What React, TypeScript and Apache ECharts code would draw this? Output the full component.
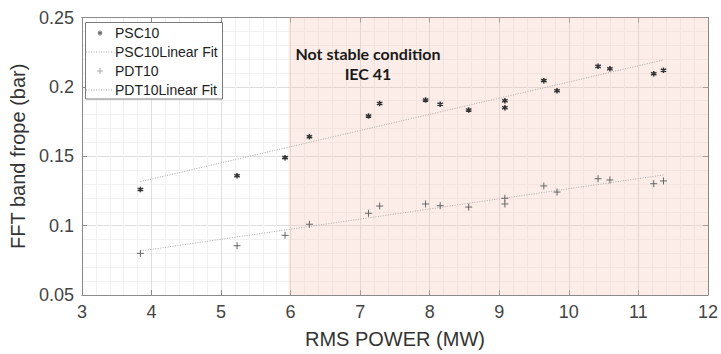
import React, { useEffect, useRef } from "react";
import * as echarts from "echarts";

// RMS power (MW) of each measurement
const psc10Power = [3.84, 5.23, 5.92, 6.27, 7.12, 7.28, 7.94, 8.15, 8.56, 9.08, 9.08, 9.64, 9.83, 10.42, 10.59, 11.22, 11.36];
// FFT band frope (bar), PSC10 sensor
const psc10Fft = [0.126, 0.136, 0.149, 0.164, 0.179, 0.188, 0.1905, 0.1875, 0.1833, 0.19, 0.185, 0.2045, 0.1972, 0.2148, 0.2131, 0.2095, 0.212];
// FFT band frope (bar), PDT10 sensor
const pdt10Power = [3.84, 5.23, 5.92, 6.27, 7.12, 7.28, 7.94, 8.15, 8.56, 9.08, 9.08, 9.64, 9.83, 10.42, 10.59, 11.22, 11.36];
const pdt10Fft = [0.08, 0.0855, 0.093, 0.101, 0.1089, 0.1141, 0.1156, 0.1144, 0.1134, 0.1197, 0.1156, 0.1286, 0.1242, 0.1338, 0.1329, 0.1302, 0.1322];

// Linear fit end points
const fitPower = [3.84, 11.36];
const psc10FitFft = [0.1317, 0.2194];
const pdt10FitFft = [0.0817, 0.1365];

// Power range flagged as not stable (IEC 41)
const unstableRange = [5.97, 12];

const xTicks = { min: 3, max: 12, interval: 1 };
const yTicks = { min: 0.05, max: 0.25, interval: 0.05 };

const legendNames = ["PSC10", "PSC10Linear Fit", "PDT10", "PDT10Linear Fit"];

const ASTERISK = "path://M0,-1L0,1M-0.866,-0.5L0.866,0.5M-0.866,0.5L0.866,-0.5";
const PLUS = "path://M0,-1L0,1M-1,0L1,0";

const FONT = "'Liberation Sans', Arial, sans-serif";

const zip = (xs: number[], ys: number[]) => xs.map((x, i) => [x, ys[i]]);

function legendGraphic() {
  const left = 85.5;
  const top = 22.5;
  const rows = [33, 52, 71, 90];
  const Z = 100;
  const children: any[] = [
    {
      type: "rect",
      z: Z,
      shape: { x: left, y: top, width: 137, height: 76.5 },
      style: { fill: "#fff", stroke: "#7a7a7a", lineWidth: 1 },
    },
  ];
  // PSC10 asterisk
  const a = 2.4;
  [0, 60, 120].forEach((deg) => {
    const r = (deg * Math.PI) / 180;
    children.push({
      type: "line",
      z: Z + 1,
      shape: { x1: 100 - a * Math.sin(r), y1: rows[0] - a * Math.cos(r), x2: 100 + a * Math.sin(r), y2: rows[0] + a * Math.cos(r) },
      style: { stroke: "#666", lineWidth: 1.2 },
    });
  });
  // PDT10 plus
  children.push(
    { type: "line", z: Z + 1, shape: { x1: 100, y1: rows[2] - 3, x2: 100, y2: rows[2] + 3 }, style: { stroke: "#aaa", lineWidth: 1 } },
    { type: "line", z: Z + 1, shape: { x1: 97, y1: rows[2], x2: 103, y2: rows[2] }, style: { stroke: "#aaa", lineWidth: 1 } }
  );
  // fit line samples
  [rows[1], rows[3]].forEach((y) =>
    children.push({
      type: "line",
      z: Z + 1,
      shape: { x1: 86, y1: y, x2: 113, y2: y },
      style: { stroke: "#aaa", lineWidth: 1, lineDash: [1, 1.5] },
    })
  );
  legendNames.forEach((name, i) =>
    children.push({
      type: "text",
      z: Z + 1,
      style: {
        text: name,
        x: 115,
        y: rows[i],
        textVerticalAlign: "middle",
        font: `14px ${FONT}`,
        fill: "#222",
      },
    })
  );
  return { type: "group", z: Z, children };
}

export default function App() {
  const ref = useRef<HTMLDivElement>(null);

  useEffect(() => {
    if (!ref.current) return;
    const chart = echarts.init(ref.current, null, { renderer: "svg" });

    const axisLine = { show: true, lineStyle: { color: "#8a8a8a", width: 1 } };
    const tick = { show: true, inside: true, length: 5, lineStyle: { color: "#8a8a8a" } };

    chart.setOption({
      animation: false,
      backgroundColor: "#fff",
      grid: { left: 81, right: 12, top: 17.5, bottom: 59 },
      xAxis: [
        {
          type: "value",
          ...xTicks,
          position: "bottom",
          name: "RMS POWER (MW)",
          nameLocation: "middle",
          nameGap: 34,
          nameTextStyle: { fontSize: 20, color: "#333", fontFamily: FONT },
          axisLine,
          axisTick: tick,
          axisLabel: { fontSize: 18, color: "#444", fontFamily: FONT, margin: 8 },
          splitLine: { show: true, lineStyle: { color: "#dedede" } },
          minorTick: { show: false, splitNumber: 5 },
          minorSplitLine: { show: true, lineStyle: { color: "#f1f1f1" } },
        },
        {
          type: "value",
          ...xTicks,
          position: "top",
          axisLine,
          axisTick: tick,
          axisLabel: { show: false },
          splitLine: { show: false },
        },
      ],
      yAxis: [
        {
          type: "value",
          ...yTicks,
          position: "left",
          name: "FFT band frope (bar)",
          nameLocation: "middle",
          nameGap: 48,
          nameTextStyle: { fontSize: 20, color: "#333", fontFamily: FONT },
          axisLine,
          axisTick: tick,
          axisLabel: { fontSize: 18, color: "#444", fontFamily: FONT, margin: 8 },
          splitLine: { show: true, lineStyle: { color: "#dedede" } },
          minorTick: { show: false, splitNumber: 5 },
          minorSplitLine: { show: true, lineStyle: { color: "#f1f1f1" } },
        },
        {
          type: "value",
          ...yTicks,
          position: "right",
          axisLine,
          axisTick: tick,
          axisLabel: { show: false },
          splitLine: { show: false },
        },
      ],
      series: [
        {
          name: "unstable",
          type: "line",
          data: [],
          z: 1,
          silent: true,
          markArea: {
            silent: true,
            itemStyle: { color: "rgba(245, 195, 178, 0.3)" },
            data: [[{ xAxis: unstableRange[0] }, { xAxis: unstableRange[1] }]],
          },
        },
        {
          name: "PSC10Linear Fit",
          type: "line",
          z: 3,
          data: zip(fitPower, psc10FitFft),
          symbol: "none",
          lineStyle: { color: "#aaaaaa", width: 1, type: [1, 1.5] },
        },
        {
          name: "PDT10Linear Fit",
          type: "line",
          z: 3,
          data: zip(fitPower, pdt10FitFft),
          symbol: "none",
          lineStyle: { color: "#aaaaaa", width: 1, type: [1, 1.5] },
        },
        {
          name: "PSC10",
          type: "scatter",
          z: 4,
          data: zip(psc10Power, psc10Fft),
          symbol: ASTERISK,
          symbolSize: 5.5,
          itemStyle: { color: "#333", borderColor: "#333", borderWidth: 1.5, opacity: 1 },
        },
        {
          name: "PDT10",
          type: "scatter",
          z: 4,
          data: zip(pdt10Power, pdt10Fft),
          symbol: PLUS,
          symbolSize: 7,
          itemStyle: { color: "none", borderColor: "#666", borderWidth: 1, opacity: 1 },
        },
      ],
      graphic: [
        {
          type: "text",
          z: 100,
          style: {
            text: "Not stable condition\nIEC 41",
            x: 368,
            y: 43,
            textAlign: "center",
            textVerticalAlign: "top",
            font: "bold 16px Lato, 'Open Sans', sans-serif",
            lineHeight: 20,
            fill: "#1a1a1a",
          },
        },
        legendGraphic(),
      ],
    });

    return () => chart.dispose();
  }, []);

  return (
    <div
      ref={ref}
      style={{ position: "fixed", left: 0, top: 0, width: 721, height: 354, background: "#fff" }}
    />
  );
}
